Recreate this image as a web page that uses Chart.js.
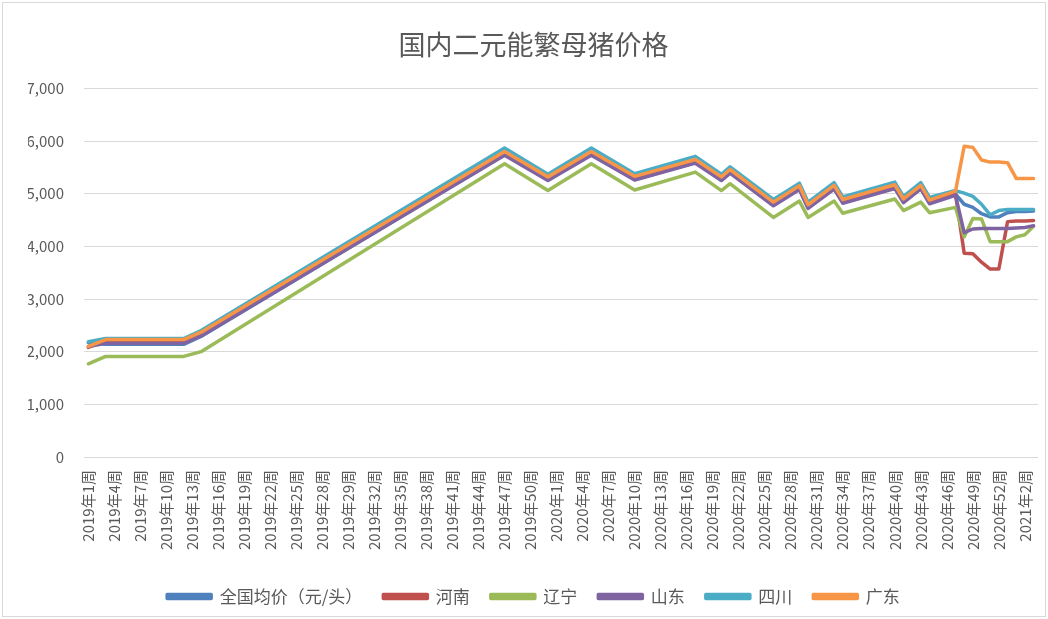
<!DOCTYPE html>
<html>
<head>
<meta charset="utf-8">
<script src="https://cdn.jsdelivr.net/npm/chart.js@4.4.1/dist/chart.umd.min.js"></script>
<style>
  html, body { margin: 0; padding: 0; background: #fff; }
  #wrap { position: relative; width: 1048px; height: 619px; }
  #frame { position: absolute; left: 2px; top: 2px; right: 2px; bottom: 2px; border: 1px solid #d9d9d9; pointer-events: none; }
</style>
</head>
<body>
<div id="wrap">
  <canvas id="sowChart" width="1048" height="619"></canvas>
  <div id="frame"></div>
</div>
<script>
// ── DATA ──
// week position on the category axis (0 = 2019年1周), only the turning points
const weekIdx = [0, 2, 11, 13, 48, 53, 58, 63, 70, 73, 74, 79, 82, 83, 86, 87, 93, 94, 96, 97,
                 100, 101, 102, 103, 104, 105, 106, 107, 108, 109];

const national  = [2170, 2140, 2140, 2290, 5740, 5260, 5740, 5270, 5590, 5260, 5400, 4780, 5090, 4730, 5100, 4830, 5110, 4840, 5100, 4820,
                   4990, 4800, 4740, 4620, 4560, 4560, 4640, 4660, 4660, 4670];
const henan     = [2080, 2210, 2210, 2350, 5780, 5300, 5780, 5310, 5630, 5300, 5440, 4820, 5130, 4770, 5140, 4870, 5150, 4880, 5140, 4860,
                   4990, 3870, 3860, 3700, 3570, 3570, 4470, 4480, 4480, 4490];
const liaoning  = [1770, 1910, 1910, 2000, 5570, 5060, 5570, 5070, 5410, 5060, 5190, 4550, 4860, 4550, 4860, 4630, 4900, 4680, 4840, 4640,
                   4740, 4180, 4530, 4520, 4090, 4090, 4090, 4180, 4220, 4380];
const shandong  = [2100, 2160, 2160, 2300, 5730, 5250, 5730, 5260, 5580, 5250, 5390, 4770, 5080, 4720, 5090, 4820, 5100, 4830, 5090, 4810,
                   4970, 4260, 4330, 4340, 4340, 4340, 4340, 4350, 4360, 4390];
const sichuan   = [2190, 2250, 2250, 2400, 5870, 5370, 5870, 5380, 5710, 5370, 5510, 4890, 5200, 4840, 5210, 4940, 5220, 4950, 5210, 4930,
                   5060, 5010, 4950, 4800, 4600, 4680, 4700, 4700, 4700, 4700];
const guangdong = [2100, 2230, 2230, 2370, 5800, 5320, 5800, 5330, 5650, 5320, 5460, 4840, 5150, 4790, 5160, 4890, 5170, 4900, 5160, 4880,
                   5050, 5900, 5880, 5640, 5600, 5600, 5590, 5290, 5290, 5290];

// one label every 3 weeks
const tickText = ['2019年1周', '2019年4周', '2019年7周', '2019年10周', '2019年13周', '2019年16周', '2019年19周',
  '2019年22周', '2019年25周', '2019年28周', '2019年29周', '2019年32周', '2019年35周', '2019年38周',
  '2019年41周', '2019年44周', '2019年47周', '2019年50周', '2020年1周', '2020年4周', '2020年7周',
  '2020年10周', '2020年13周', '2020年16周', '2020年19周', '2020年22周', '2020年25周', '2020年28周',
  '2020年31周', '2020年34周', '2020年37周', '2020年40周', '2020年43周', '2020年46周', '2020年49周',
  '2020年52周', '2021年2周'];

const seriesNames = ['全国均价（元/头）', '河南', '辽宁', '山东', '四川', '广东'];
const seriesData = [national, henan, liaoning, shandong, sichuan, guangdong];
const seriesColors = ['#4F81BD', '#C0504D', '#9BBB59', '#8064A2', '#4BACC6', '#F79646'];

// ── CHART ──
const FONT = '"Noto Sans CJK SC", "Noto Sans", sans-serif';
const TEXT = '#595959';

const datasets = seriesNames.map((name, i) => ({
  label: name,
  data: weekIdx.map((w, k) => ({ x: w, y: seriesData[i][k] })),
  borderColor: seriesColors[i],
  backgroundColor: seriesColors[i],
  borderWidth: 3.5,
  borderJoinStyle: 'round',
  borderCapStyle: 'round',
  pointRadius: 0,
  tension: 0,
  order: seriesNames.length - i   // later series painted on top, like Excel
}));

new Chart(document.getElementById('sowChart'), {
  type: 'line',
  data: { datasets: datasets },
  options: {
    responsive: false,
    animation: false,
    // left padding pushes title + legend centre to the right; y width makes up for it
    layout: { padding: { left: 28, right: 9, top: 0, bottom: 4 } },
    plugins: {
      tooltip: { enabled: false },
      title: {
        display: true,
        text: '国内二元能繁母猪价格',
        color: TEXT,
        font: { family: FONT, size: 27, weight: 'normal' },
        padding: { top: 29, bottom: 27 }
      },
      legend: {
        position: 'bottom',
        labels: {
          color: TEXT,
          font: { family: FONT, size: 17 },
          boxWidth: 44,
          boxHeight: 4,
          padding: 21,
          sort: (a, b) => a.datasetIndex - b.datasetIndex
        }
      }
    },
    scales: {
      x: {
        type: 'linear',
        min: -0.5,
        max: 109.5,
        afterBuildTicks: s => { s.ticks = tickText.map((t, k) => ({ value: k * 3 })); },
        afterFit: s => { s.height = 110; },
        grid: { display: false },
        border: { display: false },
        ticks: {
          autoSkip: false,
          minRotation: 90,
          maxRotation: 90,
          padding: 5,
          color: TEXT,
          font: { family: FONT, size: 15 },
          callback: v => tickText[Math.round(v / 3)]
        }
      },
      y: {
        min: 0,
        max: 7000,
        afterFit: s => { s.width = 56; },
        grid: { color: '#d9d9d9', drawTicks: false },
        border: { display: false },
        ticks: {
          stepSize: 1000,
          padding: 20,
          color: TEXT,
          font: { family: FONT, size: 15 },
          callback: v => v.toLocaleString('en-US')
        }
      }
    }
  }
});
</script>
</body>
</html>
